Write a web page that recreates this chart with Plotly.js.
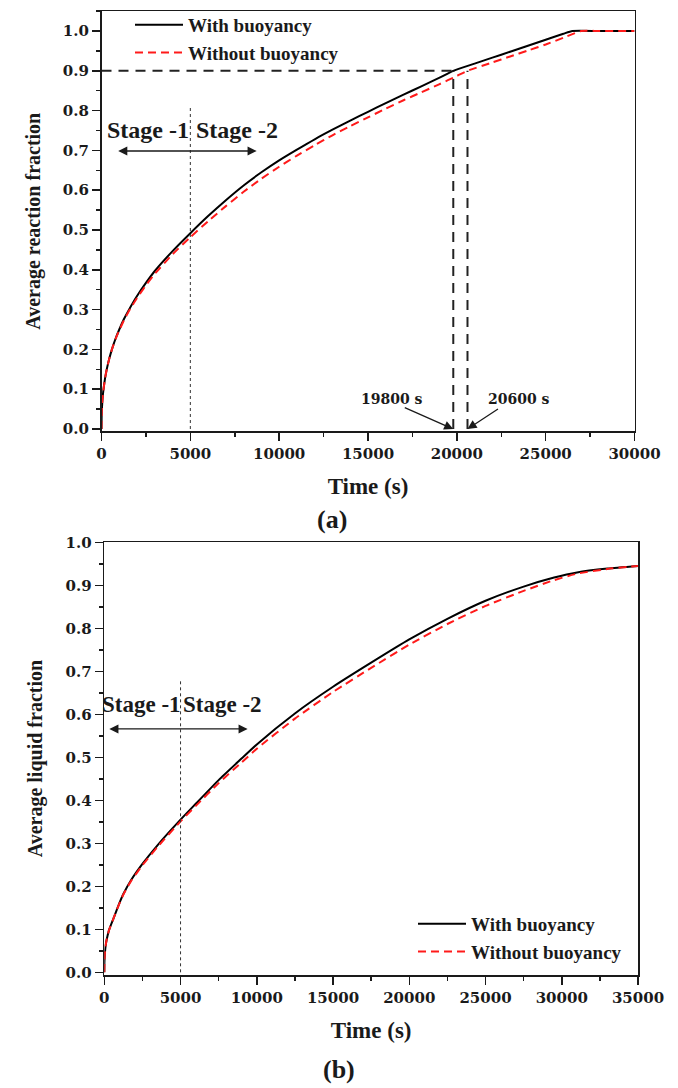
<!DOCTYPE html>
<html>
<head>
<meta charset="utf-8">
<script src="https://cdn.plot.ly/plotly-3.0.1.min.js"></script>
<style>
html,body{margin:0;padding:0;background:#fff;}
#chart{width:678px;height:1088px;}
</style>
</head>
<body>
<div id="chart"></div>
<script>
// ---------- data ----------
// (a) Average reaction fraction vs time
const timeA_with = [0, 10, 30, 60, 100, 200, 300, 450, 600, 800, 1000, 1250, 1500, 2000, 2500, 3000, 4000, 5000, 6000, 7000, 8000, 9000, 10000, 11000, 12000, 13000, 14000, 15000, 16000, 17000, 18000, 19000, 19800, 21000, 22000, 23000, 24000, 25000, 26000, 26500, 28000, 30000];
const fracA_with = [0, 0.036, 0.057, 0.077, 0.095, 0.127, 0.151, 0.179, 0.202, 0.228, 0.25, 0.275, 0.296, 0.334, 0.367, 0.397, 0.447, 0.492, 0.535, 0.575, 0.612, 0.645, 0.675, 0.702, 0.728, 0.752, 0.775, 0.797, 0.819, 0.84, 0.861, 0.882, 0.9, 0.918, 0.933, 0.948, 0.963, 0.978, 0.993, 1.0, 1.0, 1.0];
const timeA_without = [0, 10, 30, 60, 100, 200, 300, 450, 600, 800, 1000, 1250, 1500, 2000, 2500, 3000, 4000, 5000, 6000, 7000, 8000, 9000, 10000, 11000, 12000, 13000, 14000, 15000, 16000, 17000, 18000, 19000, 20000, 20600, 22000, 23000, 24000, 25000, 26000, 27000, 28000, 30000];
const fracA_without = [0, 0.036, 0.057, 0.077, 0.095, 0.127, 0.151, 0.179, 0.202, 0.227, 0.248, 0.272, 0.293, 0.329, 0.361, 0.39, 0.439, 0.482, 0.522, 0.56, 0.596, 0.629, 0.659, 0.687, 0.713, 0.738, 0.761, 0.783, 0.805, 0.826, 0.846, 0.866, 0.887, 0.9, 0.921, 0.936, 0.951, 0.966, 0.983, 1.0, 1.0, 1.0];

// (b) Average liquid fraction vs time
const timeB = [0, 10, 40, 80, 150, 300, 600, 900, 1250, 1750, 2500, 3500, 5000, 6000, 7500, 9000, 10000, 12500, 15000, 17500, 20000, 22500, 25000, 27500, 29500, 31000, 33000, 35000];
const liqB_with = [0, 0.025, 0.045, 0.06, 0.075, 0.097, 0.125, 0.153, 0.182, 0.214, 0.252, 0.296, 0.355, 0.392, 0.447, 0.497, 0.53, 0.602, 0.664, 0.72, 0.774, 0.822, 0.864, 0.897, 0.918, 0.93, 0.939, 0.945];
const liqB_without = [0, 0.025, 0.045, 0.06, 0.075, 0.097, 0.125, 0.152, 0.181, 0.212, 0.249, 0.292, 0.351, 0.387, 0.44, 0.488, 0.52, 0.59, 0.652, 0.708, 0.762, 0.81, 0.852, 0.887, 0.912, 0.927, 0.938, 0.945];

const seriesNames = ['With buoyancy', 'Without buoyancy'];
const targetFraction = 0.9;
const markTimes = [19800, 20600];
const markLabels = ['19800 s', '20600 s'];
const stageBoundary = 5000;
const stageLabels = ['Stage -1', 'Stage -2'];
const panelLabels = ['(a)', '(b)'];
const xTitle = 'Time (s)';
const yTitles = ['Average reaction fraction', 'Average liquid fraction'];

// ---------- styling ----------
const SERIF = '"Liberation Serif", "Times New Roman", serif';
const WIDE = '"DejaVu Serif", serif';
const INK = '#1a1a1a';
const tickFont = {family: WIDE, size: 15, color: INK, weight: 'bold'};
const titleFont = {family: SERIF, size: 23, color: INK, weight: 'bold'};

function xAxis(domain, range, anchor) {
  return {
    domain: domain, range: range, anchor: anchor,
    tickmode: 'linear', tick0: 0, dtick: 5000, tickformat: 'd',
    ticks: 'outside', ticklen: 8, tickwidth: 1.5, tickcolor: INK,
    minor: {dtick: 2500, ticks: 'outside', ticklen: 4, tickwidth: 1.5, tickcolor: INK},
    showline: true, linewidth: 1.6, linecolor: INK, mirror: true,
    showgrid: false, zeroline: false,
    tickfont: tickFont,
    title: {text: xTitle, font: titleFont, standoff: 16}
  };
}
function yAxis(domain, range, anchor, title) {
  return {
    domain: domain, range: range, anchor: anchor,
    tickmode: 'linear', tick0: 0, dtick: 0.1, tickformat: '.1f',
    ticks: 'outside', ticklen: 8, tickwidth: 1.5, tickcolor: INK,
    minor: {dtick: 0.05, ticks: 'outside', ticklen: 4, tickwidth: 1.5, tickcolor: INK},
    showline: true, linewidth: 1.6, linecolor: INK, mirror: true,
    showgrid: false, zeroline: false,
    tickfont: tickFont,
    title: {text: title, font: {family: SERIF, size: 20, color: INK, weight: 'bold'}, standoff: 17}
  };
}

const smooth = 0.5;
const traces = [
  {x: timeA_with, y: fracA_with, name: seriesNames[0], type: 'scatter', mode: 'lines',
   line: {color: '#000', width: 2, shape: 'spline', smoothing: smooth}, xaxis: 'x', yaxis: 'y', legend: 'legend'},
  {x: timeA_without, y: fracA_without, name: seriesNames[1], type: 'scatter', mode: 'lines',
   line: {color: '#ff1a1a', width: 2, dash: '8px,5px', shape: 'spline', smoothing: smooth}, xaxis: 'x', yaxis: 'y', legend: 'legend'},
  {x: timeB, y: liqB_with, name: seriesNames[0], type: 'scatter', mode: 'lines',
   line: {color: '#000', width: 2, shape: 'spline', smoothing: smooth}, xaxis: 'x2', yaxis: 'y2', legend: 'legend2'},
  {x: timeB, y: liqB_without, name: seriesNames[1], type: 'scatter', mode: 'lines',
   line: {color: '#ff1a1a', width: 2, dash: '8px,5px', shape: 'spline', smoothing: smooth}, xaxis: 'x2', yaxis: 'y2', legend: 'legend2'}
];

const refDash = {color: '#222', width: 2, dash: '10px,7px'};
const thinDash = {color: '#333', width: 1, dash: '3px,3px'};
const shapes = [
  {type: 'line', xref: 'x', yref: 'y', x0: 0, x1: markTimes[0], y0: targetFraction, y1: targetFraction, line: refDash},
  {type: 'line', xref: 'x', yref: 'y', x0: markTimes[0], x1: markTimes[0], y0: 0, y1: targetFraction, line: refDash},
  {type: 'line', xref: 'x', yref: 'y', x0: markTimes[1], x1: markTimes[1], y0: 0, y1: targetFraction, line: refDash},
  {type: 'line', xref: 'x', yref: 'y', x0: stageBoundary, x1: stageBoundary, y0: 0, y1: 0.81, line: thinDash},
  {type: 'line', xref: 'x2', yref: 'y2', x0: stageBoundary, x1: stageBoundary, y0: 0, y1: 0.68, line: thinDash}
];

const annFont = {family: WIDE, size: 14, color: INK, weight: 'bold'};
const stageFontA = {family: SERIF, size: 24, color: INK, weight: 'bold'};
const stageFontB = {family: SERIF, size: 23, color: INK, weight: 'bold'};
function arrowOnly(xref, yref, x, y, ax, ay, axref, ayref, both) {
  return {xref: xref, yref: yref, x: x, y: y, ax: ax, ay: ay, axref: axref, ayref: ayref,
    text: ' ', font: {size: 1}, showarrow: true, arrowhead: 2, arrowsize: 1.4, arrowwidth: 1.3,
    arrowcolor: INK, standoff: 0, startstandoff: 0,
    arrowside: both ? 'end+start' : 'end', startarrowhead: 2, startarrowsize: 1.4};
}
const annotations = [
  {xref: 'x', yref: 'y', x: 16330, y: 0.076, text: markLabels[0], showarrow: false, font: annFont},
  {xref: 'x', yref: 'y', x: 23500, y: 0.076, text: markLabels[1], showarrow: false, font: annFont},
  arrowOnly('x', 'y', markTimes[0], 0, -50, -22, 'pixel', 'pixel', false),
  arrowOnly('x', 'y', markTimes[1], 0, 32, -21, 'pixel', 'pixel', false),
  {xref: 'x', yref: 'y', x: stageBoundary, y: 0.751, text: stageLabels[0], showarrow: false,
   xanchor: 'right', xshift: 1, font: stageFontA},
  {xref: 'x', yref: 'y', x: stageBoundary, y: 0.751, text: stageLabels[1], showarrow: false,
   xanchor: 'left', xshift: 4, font: stageFontA},
  arrowOnly('x', 'y', 8735, 0.6985, 855, 0.6985, 'x', 'y', true),
  {xref: 'x2', yref: 'y2', x: stageBoundary, y: 0.622, text: stageLabels[0], showarrow: false,
   xanchor: 'right', xshift: 2, font: stageFontB},
  {xref: 'x2', yref: 'y2', x: stageBoundary, y: 0.622, text: stageLabels[1], showarrow: false,
   xanchor: 'left', xshift: 0, font: stageFontB},
  arrowOnly('x2', 'y2', 9400, 0.566, 230, 0.566, 'x2', 'y2', true),
  {xref: 'paper', yref: 'paper', x: 332 / 678, y: 1 - 519 / 1088, text: panelLabels[0], showarrow: false,
   xanchor: 'center', yanchor: 'middle', font: {family: SERIF, size: 26, color: INK, weight: 'bold'}},
  {xref: 'paper', yref: 'paper', x: 339 / 678, y: 1 - 1069 / 1088, text: panelLabels[1], showarrow: false,
   xanchor: 'center', yanchor: 'middle', font: {family: SERIF, size: 26, color: INK, weight: 'bold'}}
];

const legendFont = {family: SERIF, size: 19, color: INK, weight: 'bold'};
const layout = {
  width: 678, height: 1088,
  margin: {l: 0, r: 0, t: 0, b: 0},
  paper_bgcolor: '#fff', plot_bgcolor: '#fff',
  showlegend: true,
  xaxis: xAxis([101.5 / 678, 634.5 / 678], [0, 30000], 'y'),
  yaxis: yAxis([1 - 431.4 / 1088, 1 - 11.1 / 1088], [-0.006, 1.05], 'x', yTitles[0]),
  xaxis2: xAxis([104.3 / 678, 638 / 678], [0, 35000], 'y2'),
  yaxis2: yAxis([1 - 974.9 / 1088, 1 - 542.3 / 1088], [-0.006, 1.0], 'x2', yTitles[1]),
  legend: {x: 130 / 678, y: 1 - 6 / 1088, xanchor: 'left', yanchor: 'top', bgcolor: 'rgba(0,0,0,0)',
           font: legendFont, itemwidth: 48, tracegroupgap: 0},
  legend2: {x: 413 / 678, y: 1 - 905 / 1088, xanchor: 'left', yanchor: 'top', bgcolor: 'rgba(0,0,0,0)',
            font: legendFont, itemwidth: 48, tracegroupgap: 0},
  shapes: shapes,
  annotations: annotations
};

Plotly.newPlot('chart', traces, layout, {staticPlot: true, displayModeBar: false});
</script>
</body>
</html>
